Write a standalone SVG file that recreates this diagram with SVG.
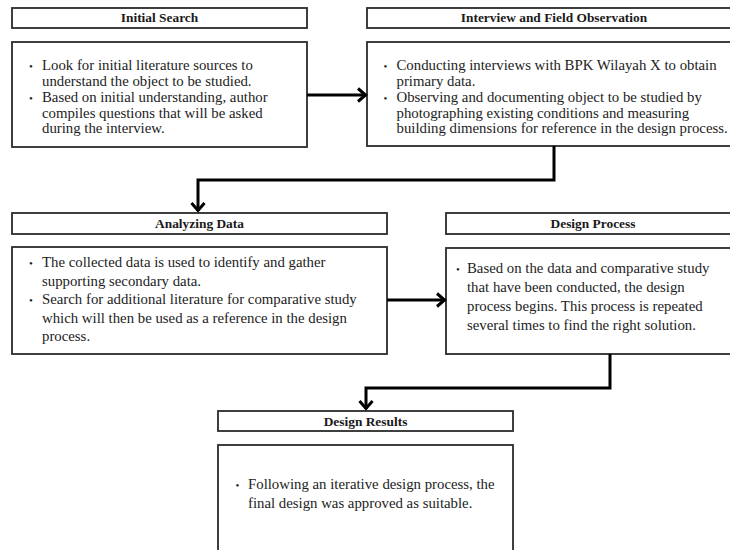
<svg xmlns="http://www.w3.org/2000/svg" width="730" height="550" viewBox="0 0 730 550">
<style>
.box{fill:#fff;stroke:#2b2b2b;stroke-width:1.8}
.hd{font-family:"Liberation Serif","Times New Roman",serif;font-weight:bold;font-size:13.4px;fill:#1a1a1a;text-anchor:middle}
.tx{font-family:"Liberation Serif","Times New Roman",serif;font-size:14.8px;fill:#222}
.bl{font-family:"Liberation Serif","Times New Roman",serif;font-size:11px;fill:#222;text-anchor:middle}
.cn{fill:none;stroke:#000;stroke-width:3;stroke-linejoin:miter}
</style>
<defs>
<marker id="ah" markerUnits="userSpaceOnUse" viewBox="0 0 14 16" refX="11" refY="8" markerWidth="14" markerHeight="16" orient="auto">
<path d="M3,1.5 L10.5,8 L3,14.5" fill="none" stroke="#000" stroke-width="3"/>
</marker>
</defs>
<rect width="730" height="550" fill="#fff"/>

<g id="initial-search">
<rect class="box" x="12" y="8" width="295" height="20"/>
<text class="hd" x="159.5" y="22">Initial Search</text>
<rect class="box" x="12" y="42" width="295" height="105"/>
<text class="bl" x="31" y="70">•</text>
<text class="tx" x="42" y="70">Look for initial literature sources to</text>
<text class="tx" x="42" y="86">understand the object to be studied.</text>
<text class="bl" x="31" y="102">•</text>
<text class="tx" x="42" y="102">Based on initial understanding, author</text>
<text class="tx" x="42" y="118">compiles questions that will be asked</text>
<text class="tx" x="42" y="133">during the interview.</text>
</g>

<g id="interview">
<rect class="box" x="367" y="8" width="373" height="20"/>
<text class="hd" x="554" y="22">Interview and Field Observation</text>
<rect class="box" x="367" y="42" width="373" height="104"/>
<text class="bl" x="385.5" y="70">•</text>
<text class="tx" x="396.5" y="70">Conducting interviews with BPK Wilayah X to obtain</text>
<text class="tx" x="396.5" y="86">primary data.</text>
<text class="bl" x="385.5" y="102">•</text>
<text class="tx" x="396.5" y="102">Observing and documenting object to be studied by</text>
<text class="tx" x="396.5" y="118">photographing existing conditions and measuring</text>
<text class="tx" x="396.5" y="133">building dimensions for reference in the design process.</text>
</g>

<g id="analyzing">
<rect class="box" x="12" y="213" width="375" height="21"/>
<text class="hd" x="199.5" y="228">Analyzing Data</text>
<rect class="box" x="12" y="247" width="375" height="107"/>
<text class="bl" x="31" y="267">•</text>
<text class="tx" x="42" y="267">The collected data is used to identify and gather</text>
<text class="tx" x="42" y="285.5">supporting secondary data.</text>
<text class="bl" x="31" y="304">•</text>
<text class="tx" x="42" y="304">Search for additional literature for comparative study</text>
<text class="tx" x="42" y="322.5">which will then be used as a reference in the design</text>
<text class="tx" x="42" y="341">process.</text>
</g>

<g id="design-process">
<rect class="box" x="446" y="213" width="294" height="21"/>
<text class="hd" x="593" y="228">Design Process</text>
<rect class="box" x="446" y="248" width="294" height="106"/>
<text class="bl" x="458" y="273">•</text>
<text class="tx" x="467" y="273">Based on the data and comparative study</text>
<text class="tx" x="467" y="292">that have been conducted, the design</text>
<text class="tx" x="467" y="311">process begins. This process is repeated</text>
<text class="tx" x="467" y="330">several times to find the right solution.</text>
</g>

<g id="design-results">
<rect class="box" x="218" y="411" width="295" height="20"/>
<text class="hd" x="365.5" y="425.5">Design Results</text>
<rect class="box" x="218" y="445" width="295" height="110"/>
<text class="bl" x="237.5" y="489">•</text>
<text class="tx" x="248" y="489">Following an iterative design process, the</text>
<text class="tx" x="248" y="508">final design was approved as suitable.</text>
</g>

<g id="connectors">
<path class="cn" d="M307,95 H366" marker-end="url(#ah)"/>
<path class="cn" d="M554,146 V180 H198 V211" marker-end="url(#ah)"/>
<path class="cn" d="M387,300 H445" marker-end="url(#ah)"/>
<path class="cn" d="M610,354 V388 H366 V409" marker-end="url(#ah)"/>
</g>
</svg>
